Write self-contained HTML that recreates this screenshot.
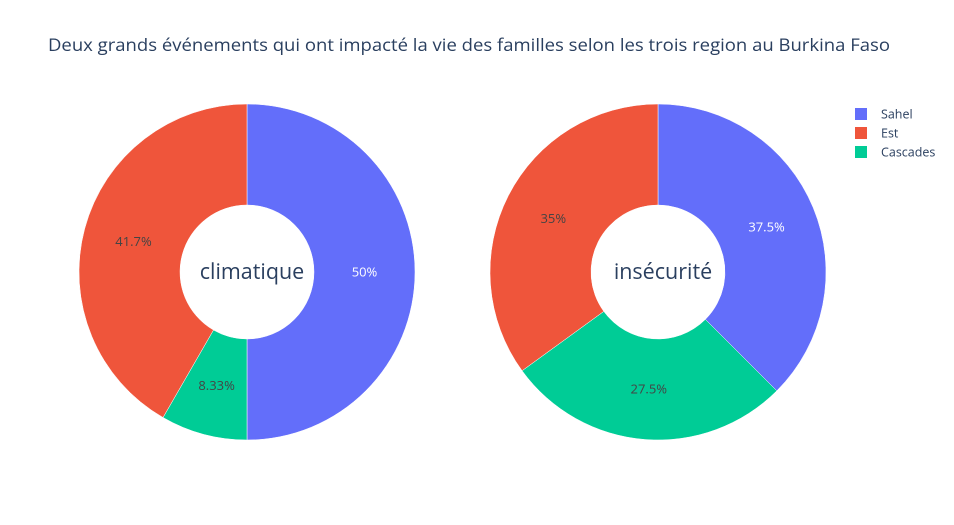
<!DOCTYPE html>
<html><head><meta charset="utf-8"><style>
body{margin:0;background:#fff;}
svg{display:block;font-family:"Open Sans","Liberation Sans",sans-serif;}
</style></head><body>
<svg id="chart" width="954" height="525">
<text x="48" y="51" font-size="17.5" fill="#2a3f5f" textLength="842" lengthAdjust="spacingAndGlyphs">Deux grands événements qui ont impacté la vie des familles selon les trois region au Burkina Faso</text>
<g id="pies"></g>
<g id="legend"></g>
</svg>
<script>
const labels = ["Sahel", "Est", "Cascades"];
const climatiqueValues = [50, 41.67, 8.33];
const insecuriteValues = [37.5, 35, 27.5];
const percentText1 = ["50%", "41.7%", "8.33%"];
const percentText2 = ["37.5%", "35%", "27.5%"];
const colors = ["#636efa", "#EF553B", "#00cc96"];
const textColors = ["#fff", "#444", "#444"];
const drawOrder = [0, 2, 1]; // clockwise from top

const NS = "http://www.w3.org/2000/svg";
const pies = document.getElementById("pies");
function pt(cx, cy, r, a) { return [cx + r * Math.sin(a), cy - r * Math.cos(a)]; }
function drawPie(cx, cy, values, texts, title, name) {
  const R = 168, r0 = 67;
  const total = values.reduce((a, b) => a + b, 0);
  const g = document.createElementNS(NS, "g");
  
  
  let a = 0;
  drawOrder.forEach(i => {
    const sw = values[i] / total * 2 * Math.PI;
    const a1 = a + sw;
    const large = sw > Math.PI ? 1 : 0;
    const p0 = pt(cx, cy, R, a), p1 = pt(cx, cy, R, a1), q1 = pt(cx, cy, r0, a1), q0 = pt(cx, cy, r0, a);
    const path = document.createElementNS(NS, "path");
    path.setAttribute("d", `M${p0[0]},${p0[1]} A${R},${R} 0 ${large} 1 ${p1[0]},${p1[1]} L${q1[0]},${q1[1]} A${r0},${r0} 0 ${large} 0 ${q0[0]},${q0[1]} Z`);
    path.setAttribute("fill", colors[i]);
    path.setAttribute("stroke", "#fff");
    path.setAttribute("stroke-width", "0.5");
    
    
    g.appendChild(path);
    const m = pt(cx, cy, (R + r0) / 2, a + sw / 2);
    const t = document.createElementNS(NS, "text");
    t.setAttribute("x", m[0]); t.setAttribute("y", m[1] + 4.5);
    t.setAttribute("text-anchor", "middle"); t.setAttribute("font-size", "13");
    t.setAttribute("fill", textColors[i]);
    t.textContent = texts[i];
    
    
    g.appendChild(t);
    a = a1;
  });
  const c = document.createElementNS(NS, "text");
  c.setAttribute("x", cx + 5); c.setAttribute("y", cy + 7);
  c.setAttribute("text-anchor", "middle"); c.setAttribute("font-size", "21.5");
  c.setAttribute("fill", "#2a3f5f");
  c.textContent = title;
  
  
  g.appendChild(c);
  pies.appendChild(g);
}
drawPie(247, 272, climatiqueValues, percentText1, "climatique", "climatique-donut");
drawPie(658, 272, insecuriteValues, percentText2, "insécurité", "insecurite-donut");

const legend = document.getElementById("legend");
labels.forEach((l, i) => {
  const y = 114 + i * 19;
  const rect = document.createElementNS(NS, "rect");
  rect.setAttribute("x", 855); rect.setAttribute("y", y - 6);
  rect.setAttribute("width", 12); rect.setAttribute("height", 12);
  rect.setAttribute("fill", colors[i]);
  
  
  legend.appendChild(rect);
  const t = document.createElementNS(NS, "text");
  t.setAttribute("x", 881); t.setAttribute("y", y + 4.5);
  t.setAttribute("font-size", "12.5"); t.setAttribute("fill", "#2a3f5f");
  t.textContent = l;
  
  
  legend.appendChild(t);
});
</script>
</body></html>
